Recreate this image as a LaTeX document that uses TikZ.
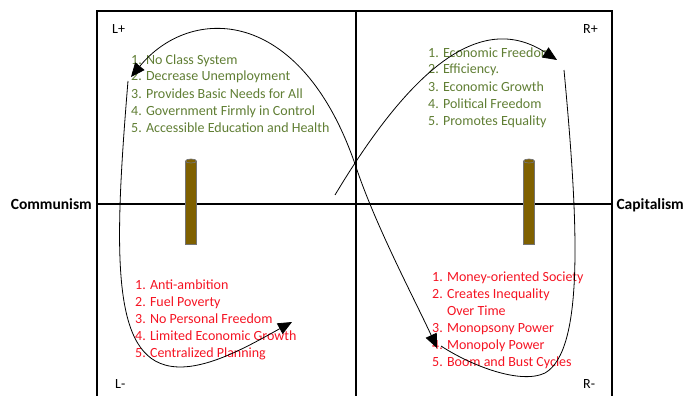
\documentclass[tikz,border=0pt]{standalone}
\usepackage{fontspec}
\setmainfont{Carlito}
\usetikzlibrary{arrows.meta}
\definecolor{progreen}{RGB}{96,126,52}
\definecolor{conred}{RGB}{245,20,35}
\definecolor{polebrown}{RGB}{127,96,0}

\begin{document}
\begin{tikzpicture}[x=1pt,y=-1pt,
      frame/.style={line width=1.8pt},
      pro/.style={anchor=base west,inner sep=0pt,text=progreen,font=\fontsize{14}{17}\selectfont},
      con/.style={pro,text=conred},
      corner/.style={anchor=base west,inner sep=0pt,font=\fontsize{14}{17}\selectfont},
      side/.style={inner sep=0pt,font=\fontsize{15.5}{19}\selectfont\bfseries},
      pole/.style={fill=polebrown,draw=black!55,line width=0.7pt},
      loop/.style={draw=black,line width=0.8pt},
      >={Triangle[length=14pt,width=12pt]}]
      \useasboundingbox (0,0) rectangle (685,396);

      % quadrants
      \draw[frame] (97,396) -- (97,11) -- (612,11) -- (612,396);
      \draw[frame] (356,11) -- (356,396);
      \draw[frame] (97,204) -- (612,204);

      \node[side,anchor=base east] (comm) at (92,209) {Communism};
      \node[side,anchor=base east] (cap) at (684,209) {Capitalism};

      \node[corner] (lplus) at (112,34) {L+};
      \node[corner] (rplus) at (583,34) {R+};
      \node[corner] (lminus) at (115,388) {L-};
      \node[corner] (rminus) at (583,388) {R-};

      % poles
      \foreach \px in {191,529} {
        \filldraw[pole] (\px-5.5,161) rectangle (\px+5.5,244);
        \filldraw[pole] (\px,161) ellipse [x radius=5.5pt,y radius=2pt];
      }

      % lists
      \foreach \t [count=\i] in {No Class System,Decrease Unemployment,
          Provides Basic Needs for All,Government Firmly in Control,
          Accessible Education and Health}
        \node[pro] (lp\i) at (131,47+17*\i) {\i. \t};
      \foreach \t [count=\i] in {Economic Freedom,Efficiency.,Economic Growth,
          Political Freedom,Promotes Equality}
        \node[pro] (rp\i) at (428,40+17*\i) {\i. \t};
      \foreach \t [count=\i] in {Anti-ambition,Fuel Poverty,No Personal Freedom,
          Limited Economic Growth,Centralized Planning}
        \node[con] (lm\i) at (135,272+17*\i) {\i. \t};
      \foreach \t [count=\i] in {1. Money-oriented Society,2. Creates Inequality,
          \phantom{2. }Over Time,3. Monopsony Power,4. Monopoly Power,
          5. Boom and Bust Cycles}
        \node[con] (rm\i) at (432,264.5+17*\i) {\t};

      % the loop
      \coordinate (lpTip) at (131,77);
      \coordinate (lpFoot) at (128,81);
      \coordinate (lmTip) at (292,322);
      \coordinate (lmOut) at (335,195);
      \coordinate (rpTip) at (557,60);
      \coordinate (rpFoot) at (564,70);
      \coordinate (cross) at (355,164);
      \coordinate (rmTip) at (437,348);
      \coordinate (rmEnd) at (441,346);

      \draw[loop,<->] (lpTip) .. controls (190,5) and (300,5) .. (cross)
          .. controls (375,225) and (415,300) .. (rmTip);
      \draw[loop,->] (lpFoot) .. controls (114,250) and (112,350) .. (165,365)
          .. controls (200,375) and (250,345) .. (lmTip);
      \draw[loop,->] (lmOut) .. controls (410,70) and (480,10) .. (rpTip);
      \draw[loop] (rpFoot) .. controls (578,220) and (585,350) .. (545,373)
          .. controls (520,385) and (470,365) .. (rmEnd);
\end{tikzpicture}
\end{document}
